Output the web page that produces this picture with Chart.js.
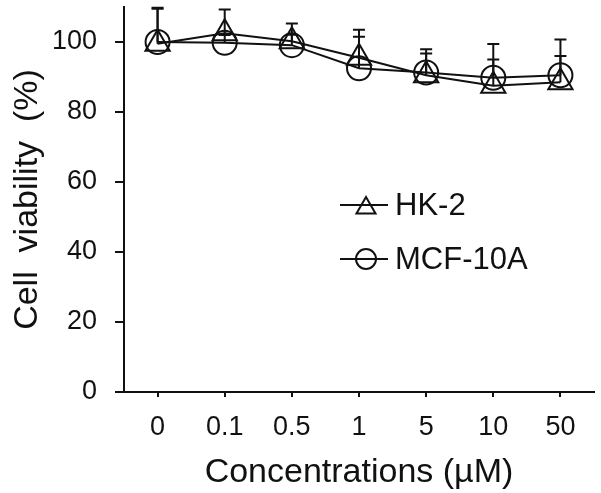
<!DOCTYPE html>
<html>
<head>
<meta charset="utf-8">
<script src="https://cdn.jsdelivr.net/npm/chart.js@4"></script>
<style>
  html, body { margin: 0; padding: 0; background: #fff; }
  #wrap { width: 601px; height: 493px; }
</style>
</head>
<body>
<div id="wrap"><canvas id="chart" width="601" height="493"></canvas></div>
<script>
// data
var concentrations = ["0", "0.1", "0.5", "1", "5", "10", "50"];
var hk2 = [99.5, 102.5, 100.2, 95.5, 90.5, 87.5, 88.5];
var hk2Err = [10.3, 6.8, 5.1, 8.0, 7.4, 7.5, 7.5];
var mcf10a = [100, 99.8, 99.1, 92.5, 91.3, 89.8, 90.5];
var mcf10aErr = [9.5, 2.2, 3.0, 9.0, 5.4, 9.6, 10.2];
var yTicks = [0, 20, 40, 60, 80, 100];

var FONT = "'Liberation Sans', Arial, sans-serif";
var INK = "#111";

// upper error bars
var errorBars = {
  id: "errorBars",
  afterDatasetsDraw: function(chart) {
    var ctx = chart.ctx;
    var yScale = chart.scales.y;
    ctx.save();
    ctx.strokeStyle = INK;
    ctx.lineWidth = 2;
    chart.data.datasets.forEach(function(ds, i) {
      var meta = chart.getDatasetMeta(i);
      meta.data.forEach(function(pt, j) {
        var top = yScale.getPixelForValue(ds.data[j] + ds.errors[j]);
        ctx.beginPath();
        ctx.moveTo(pt.x, pt.y);
        ctx.lineTo(pt.x, top);
        ctx.moveTo(pt.x - 6, top);
        ctx.lineTo(pt.x + 6, top);
        ctx.stroke();
      });
    });
    ctx.restore();
  }
};

// legend inside the plot
var insideLegend = {
  id: "insideLegend",
  afterDraw: function(chart) {
    var ctx = chart.ctx;
    var x0 = 340, x1 = 388, tx = 395;
    var rows = [205, 259];
    ctx.save();
    chart.data.datasets.forEach(function(ds, i) {
      var y = rows[i];
      ctx.strokeStyle = INK;
      ctx.lineWidth = 2;
      ctx.beginPath();
      ctx.moveTo(x0, y);
      ctx.lineTo(x1, y);
      ctx.stroke();
      ctx.fillStyle = "rgba(0,0,0,0)";
      Chart.helpers.drawPoint(ctx, {
        pointStyle: ds.pointStyle,
        radius: ds.pointStyle === "triangle" ? 11 : 10,
        borderWidth: 2
      }, (x0 + x1) / 2 + 2, ds.pointStyle === "triangle" ? y + 3 : y);
      ctx.fillStyle = INK;
      ctx.font = "31px " + FONT;
      ctx.textAlign = "left";
      ctx.textBaseline = "middle";
      ctx.fillText(ds.label, tx, y + 1);
    });
    ctx.restore();
  }
};

new Chart(document.getElementById("chart"), {
  type: "line",
  data: {
    labels: concentrations,
    datasets: [
      {
        label: "HK-2",
        data: hk2,
        errors: hk2Err,
        borderColor: INK,
        borderWidth: 2,
        pointStyle: "triangle",
        pointRadius: 14,
        pointBorderWidth: 2,
        pointBorderColor: INK,
        pointBackgroundColor: "rgba(0,0,0,0)",
        fill: false,
        tension: 0,
        clip: false
      },
      {
        label: "MCF-10A",
        data: mcf10a,
        errors: mcf10aErr,
        borderColor: INK,
        borderWidth: 2,
        pointStyle: "circle",
        pointRadius: 12,
        pointBorderWidth: 2,
        pointBorderColor: INK,
        pointBackgroundColor: "rgba(0,0,0,0)",
        fill: false,
        tension: 0,
        clip: false
      }
    ]
  },
  options: {
    responsive: false,
    animation: false,
    devicePixelRatio: 1,
    layout: { autoPadding: false, padding: { top: 7, right: 7, left: 0, bottom: 0 } },
    plugins: {
      legend: { display: false },
      tooltip: { enabled: false }
    },
    scales: {
      x: {
        offset: true,
        afterFit: function(s) { s.height = 101; s.paddingLeft = 0; s.paddingRight = 0; },
        border: { color: INK, width: 2 },
        grid: { drawOnChartArea: false, drawTicks: true, tickLength: 5, tickColor: INK, lineWidth: 2, offset: false },
        ticks: { color: INK, font: { family: FONT, size: 27 }, padding: 14, maxRotation: 0 },
        title: {
          display: true,
          text: "Concentrations (µM)",
          color: INK,
          font: { family: FONT, size: 34 },
          padding: { top: 8, bottom: 0 }
        }
      },
      y: {
        min: 0,
        max: 110,
        afterFit: function(s) { s.width = 124; s.paddingTop = 0; s.paddingBottom = 0; },
        afterBuildTicks: function(s) { s.ticks = yTicks.map(function(v) { return { value: v }; }); },
        border: { color: INK, width: 2 },
        grid: { drawOnChartArea: false, drawTicks: true, tickLength: 9, tickColor: INK, lineWidth: 2 },
        ticks: { color: INK, font: { family: FONT, size: 27 }, padding: 18 },
        title: {
          display: true,
          text: "Cell  viability  (%)",
          color: INK,
          font: { family: FONT, size: 34 },
          padding: { top: 7, bottom: 4 }
        }
      }
    }
  },
  plugins: [errorBars, insideLegend]
});
</script>
</body>
</html>
